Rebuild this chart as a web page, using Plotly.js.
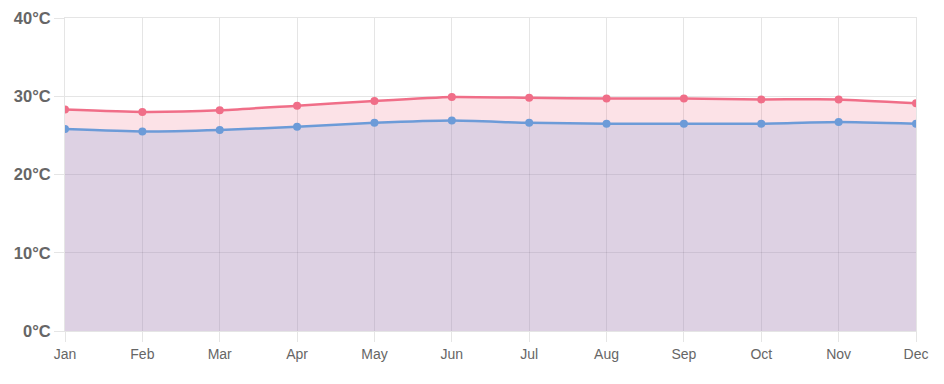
<!DOCTYPE html>
<html>
<head>
<meta charset="utf-8">
<script src="https://cdn.plot.ly/plotly-3.0.1.min.js"></script>
<style>html,body{margin:0;padding:0;background:#fff;}#chart{width:944px;height:384px;}</style>
</head>
<body>
<div id="chart"></div>
<script>
const months = ["Jan","Feb","Mar","Apr","May","Jun","Jul","Aug","Sep","Oct","Nov","Dec"];
const highTemps = [28.3, 28.0, 28.2, 28.8, 29.4, 29.9, 29.8, 29.7, 29.7, 29.6, 29.6, 29.1];
const lowTemps = [25.8, 25.5, 25.7, 26.1, 26.6, 26.9, 26.6, 26.5, 26.5, 26.5, 26.7, 26.5];
const yTickVals = [0, 10, 20, 30, 40];
const yTickText = ["0°C", "10°C", "20°C", "30°C", "40°C"];

const redLine = "rgb(240,110,136)";
const blueLine = "rgb(108,155,216)";

const traces = [
  {
    x: months, y: highTemps, type: "scatter", mode: "lines+markers",
    fill: "tozeroy", fillcolor: "rgba(240,110,136,0.2)",
    line: {color: redLine, width: 2.5, shape: "spline", smoothing: 0.5},
    marker: {color: redLine, size: 8},
    hoverinfo: "none"
  },
  {
    x: months, y: lowTemps, type: "scatter", mode: "lines+markers",
    fill: "tozeroy", fillcolor: "rgba(100,145,215,0.2)",
    line: {color: blueLine, width: 2.5, shape: "spline", smoothing: 0.5},
    marker: {color: blueLine, size: 8},
    hoverinfo: "none"
  }
];

const gridColor = "rgba(0,0,0,0.1)";
const layout = {
  width: 944, height: 384,
  margin: {l: 65, r: 28, t: 18, b: 52.5, pad: 0},
  paper_bgcolor: "#fff", plot_bgcolor: "#fff",
  showlegend: false,
  font: {family: "Liberation Sans, Arial, sans-serif", color: "#666"},
  xaxis: {
    type: "category", range: [0, 11],
    showgrid: true, gridcolor: gridColor, gridwidth: 1,
    ticks: "outside", ticklen: 10, tickcolor: gridColor, tickwidth: 1,
    tickfont: {size: 14, color: "#666"},
    showline: true, linecolor: gridColor, linewidth: 1, mirror: true,
    zeroline: false, fixedrange: true
  },
  yaxis: {
    range: [0, 40],
    tickvals: yTickVals, ticktext: yTickText,
    showgrid: true, gridcolor: gridColor, gridwidth: 1,
    ticks: "outside", ticklen: 10, tickcolor: gridColor, tickwidth: 1,
    tickfont: {size: 16.5, color: "#666", weight: "bold"},
    showline: true, linecolor: gridColor, linewidth: 1, mirror: true,
    zeroline: false, fixedrange: true
  }
};

Plotly.newPlot("chart", traces, layout, {displayModeBar: false, staticPlot: true});
</script>
</body>
</html>
